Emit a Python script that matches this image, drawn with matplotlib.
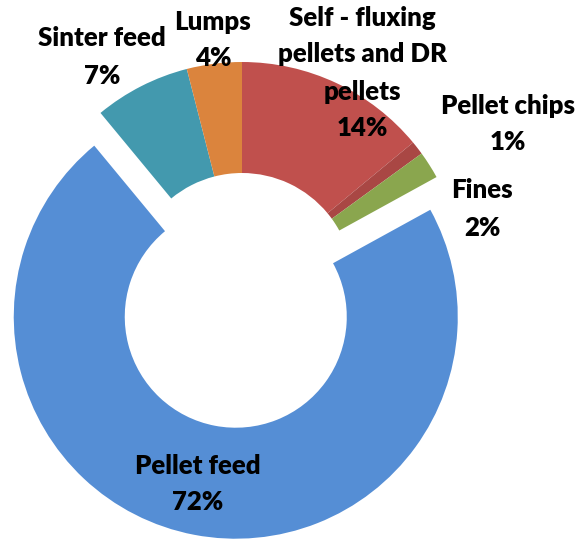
import matplotlib.pyplot as plt

# Iron ore product mix, clockwise from 12 o'clock
labels = ["Self - fluxing\npellets and DR\npellets", "Pellet chips", "Fines",
          "Pellet feed", "Sinter feed", "Lumps"]
shares = [14, 1, 2, 72, 7, 4]
colors = ["#C0504D", "#A94744", "#8AA64E", "#558ED5", "#4399AE", "#DB843D"]
explode = [0, 0, 0, 0.15, 0, 0]

# label anchor points in pixels from the top-left corner
label_pos = [(362, 73), (508, 124), (482, 209), (198, 484), (102, 57), (213, 40)]

W, H = 582, 539
R_PX = 222          # outer radius in pixels
CX, CY = 242, 284   # pie centre in pixels (from top-left)

plt.rcParams['font.family'] = ['Lato', 'DejaVu Sans']

fig = plt.figure(figsize=(W / 100, H / 100), dpi=100)
ax = fig.add_axes([0, 0, 1, 1])

ax.pie(shares, colors=colors, explode=explode, startangle=90,
       counterclock=False, radius=1,
       wedgeprops=dict(width=0.5, linewidth=0))

ax.set_xlim(-CX / R_PX, (W - CX) / R_PX)
ax.set_ylim(-(H - CY) / R_PX, CY / R_PX)
ax.set_aspect('auto')
ax.axis('off')

for lab, val, (px, py) in zip(labels, shares, label_pos):
    fig.text(px / W, 1 - py / H, f"{lab}\n{val}%", ha='center', va='center',
             fontsize=18.5, fontweight=800, linespacing=1.65, color='black')

fig.savefig("out.png", dpi=100, facecolor='white')
